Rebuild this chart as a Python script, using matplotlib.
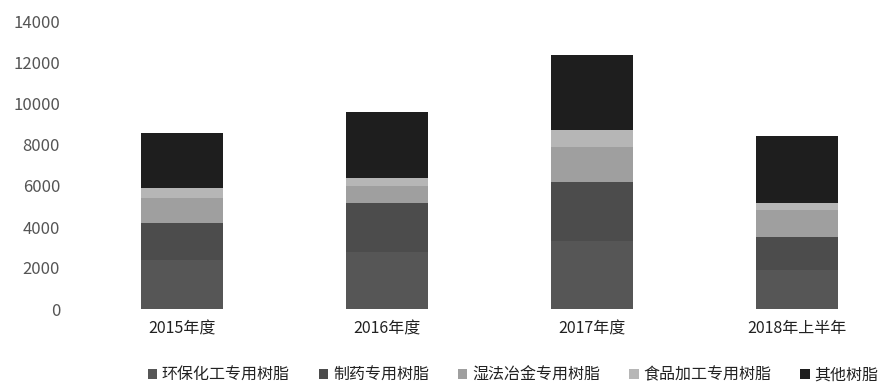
import matplotlib
matplotlib.use("Agg")
import matplotlib.pyplot as plt
import numpy as np

plt.rcParams['font.family'] = ['Noto Sans CJK SC', 'DejaVu Sans']

# 各年度专用树脂构成
years = ['2015年度', '2016年度', '2017年度', '2018年上半年']
series_names = ['环保化工专用树脂', '制药专用树脂', '湿法冶金专用树脂', '食品加工专用树脂', '其他树脂']
env_chem = [2400, 2800, 3300, 1900]
pharma = [1780, 2350, 2900, 1630]
hydromet = [1220, 850, 1710, 1300]
food = [490, 400, 810, 330]
other = [2710, 3200, 3660, 3290]
yticks = [0, 2000, 4000, 6000, 8000, 10000, 12000, 14000]

colors = ['#565656', '#4c4c4c', '#9f9f9f', '#b6b6b6', '#1e1e1e']

fig = plt.figure(figsize=(8.8, 3.9), dpi=100)
ax = fig.add_axes([79.5 / 880, 81 / 390, 820 / 880, 287 / 390])

x = np.arange(len(years))
bottom = np.zeros(len(years))
for name, vals, c in zip(series_names, [env_chem, pharma, hydromet, food, other], colors):
    ax.bar(x, vals, width=0.4, bottom=bottom, color=c, label=name, linewidth=0)
    bottom += np.array(vals)

ax.set_xlim(-0.5, len(years) - 0.5)
ax.set_ylim(0, 14000)
ax.set_yticks(yticks)
ax.set_yticklabels([str(v) for v in yticks], fontsize=12, color='#555555')
ax.set_xticks(x)
ax.set_xticklabels(years, fontsize=11.5, color='#222222')
ax.tick_params(axis='y', length=0, pad=14)
ax.tick_params(axis='x', length=0, pad=8)
for s in ax.spines.values():
    s.set_visible(False)

fig.legend(loc='center', bbox_to_anchor=(513 / 880, 1 - 375 / 390), ncol=5,
           frameon=False, fontsize=11.5, handlelength=0.6, handleheight=0.6,
           handletextpad=0.3, columnspacing=1.8, labelcolor='#222222')

fig.savefig('out.png', dpi=100)
